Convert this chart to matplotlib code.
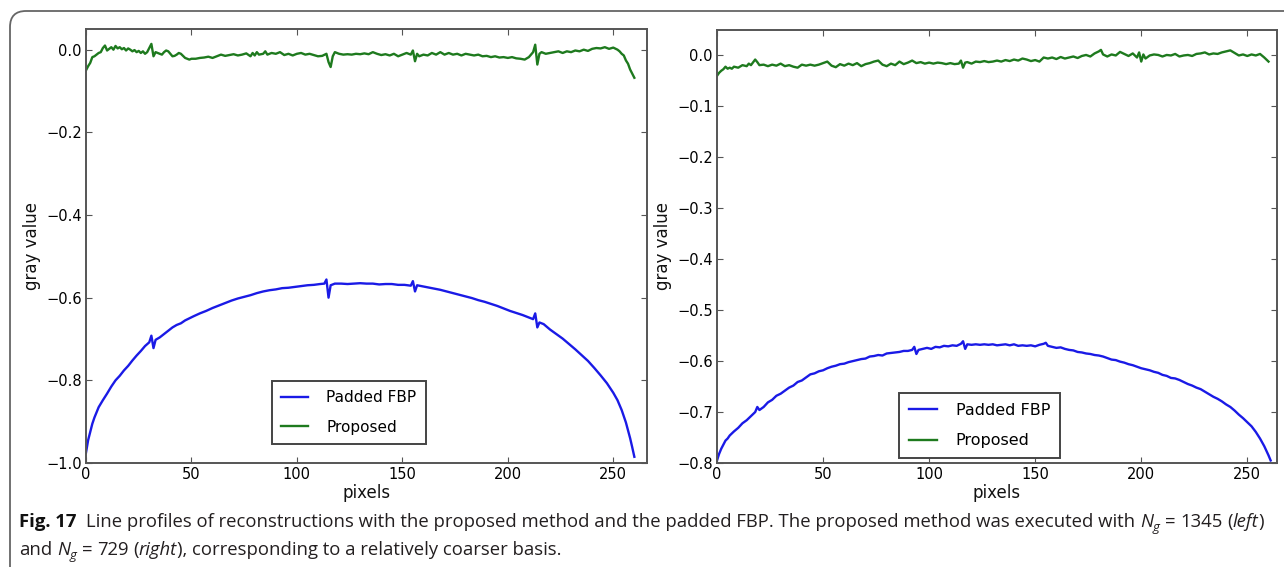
import matplotlib
matplotlib.use("Agg")
import matplotlib.pyplot as plt
from matplotlib.patches import PathPatch
from matplotlib.path import Path
import numpy as np

# ---------------- data ----------------
left_fbp_x = [0, 1, 2, 3, 4, 6, 8, 10, 12, 14, 16, 18, 20, 22, 24, 26, 28, 30, 31, 32, 33, 35, 37, 39, 41, 43, 45, 47, 49, 51,
              54, 57, 60, 63, 66, 69, 72, 75, 78, 81, 84, 87, 90, 93, 96, 99, 102, 105, 108, 111, 113, 114, 115, 116, 118,
              121, 124, 127, 130, 133, 136, 139, 142, 145, 148, 151, 154, 155, 156, 157, 159, 162, 165, 168, 171, 174, 177,
              180, 183, 186, 189, 192, 195, 198, 201, 204, 207, 210, 212, 213, 214, 215, 217, 220, 223, 226, 229, 232, 235,
              238, 241, 244, 247, 250, 252, 254, 256, 258, 259, 260]
left_fbp_y = [-0.975, -0.945, -0.925, -0.905, -0.890, -0.865, -0.848, -0.832, -0.815, -0.800, -0.789, -0.776, -0.765, -0.752,
              -0.740, -0.729, -0.717, -0.708, -0.692, -0.722, -0.702, -0.696, -0.688, -0.680, -0.672, -0.666, -0.662, -0.655,
              -0.650, -0.645, -0.638, -0.632, -0.625, -0.619, -0.613, -0.607, -0.602, -0.598, -0.594, -0.589, -0.585, -0.582,
              -0.580, -0.577, -0.576, -0.574, -0.572, -0.570, -0.569, -0.567, -0.566, -0.556, -0.600, -0.570, -0.566, -0.566,
              -0.567, -0.566, -0.565, -0.566, -0.566, -0.568, -0.567, -0.567, -0.569, -0.569, -0.571, -0.560, -0.585, -0.570,
              -0.572, -0.575, -0.578, -0.581, -0.585, -0.589, -0.593, -0.597, -0.601, -0.606, -0.610, -0.615, -0.620, -0.626,
              -0.632, -0.637, -0.642, -0.648, -0.652, -0.638, -0.672, -0.660, -0.664, -0.677, -0.688, -0.699, -0.712, -0.725,
              -0.739, -0.753, -0.770, -0.788, -0.807, -0.830, -0.848, -0.872, -0.902, -0.940, -0.962, -0.985]

left_prop_x = [0, 1, 2, 3, 4, 5, 6, 7, 8, 9, 10, 11, 12, 13, 14, 15, 16, 17, 18, 19, 20, 21, 22, 23, 24, 25, 26, 27, 28, 29,
               30, 31, 32, 33, 34, 35, 36, 37, 38, 39, 40, 41, 42, 43, 44, 45, 46, 47, 48, 49, 50, 52, 54, 56, 58, 60, 62,
               64, 66, 68, 70, 72, 74, 76, 78, 79, 80, 81, 82, 84, 85, 86, 88, 90, 92, 94, 96, 98, 100, 102, 104, 106, 108,
               110, 112, 114, 115, 116, 117, 118, 119, 120, 122, 124, 126, 128, 130, 132, 134, 136, 138, 140, 142, 144, 146,
               148, 150, 152, 154, 155, 156, 157, 158, 160, 162, 164, 166, 168, 170, 172, 174, 176, 178, 180, 182, 184, 186,
               188, 190, 192, 194, 196, 198, 200, 202, 204, 206, 208, 210, 212, 213, 214, 215, 216, 218, 220, 222, 224, 226,
               228, 230, 232, 234, 236, 238, 240, 242, 244, 246, 248, 250, 252, 253, 254, 255, 256, 257, 258, 259, 260]
left_prop_y = [-0.050, -0.040, -0.032, -0.018, -0.016, -0.012, -0.008, -0.006, 0.004, 0.010, -0.002, 0.002, 0.006, 0.000,
               0.009, 0.003, 0.006, 0.001, 0.004, -0.002, 0.003, 0.000, -0.004, -0.001, -0.006, -0.003, -0.008, -0.004,
               -0.010, -0.006, 0.004, 0.014, -0.016, -0.006, -0.008, -0.010, -0.012, -0.006, -0.002, -0.004, -0.010, -0.016,
               -0.015, -0.012, -0.008, -0.010, -0.015, -0.020, -0.022, -0.024, -0.022, -0.022, -0.020, -0.019, -0.017,
               -0.020, -0.016, -0.012, -0.015, -0.013, -0.011, -0.014, -0.012, -0.009, -0.016, -0.008, -0.014, -0.006,
               -0.012, -0.010, -0.004, -0.012, -0.008, -0.010, -0.006, -0.013, -0.010, -0.014, -0.010, -0.008, -0.012,
               -0.010, -0.013, -0.016, -0.015, -0.010, -0.030, -0.042, -0.016, -0.006, -0.008, -0.010, -0.012, -0.011,
               -0.012, -0.010, -0.011, -0.009, -0.011, -0.006, -0.010, -0.013, -0.011, -0.014, -0.010, -0.016, -0.012,
               -0.008, -0.012, -0.002, -0.028, -0.010, -0.016, -0.012, -0.014, -0.008, -0.012, -0.006, -0.012, -0.008,
               -0.012, -0.010, -0.014, -0.010, -0.012, -0.014, -0.012, -0.016, -0.015, -0.018, -0.016, -0.019, -0.018,
               -0.020, -0.018, -0.021, -0.022, -0.024, -0.018, -0.006, 0.012, -0.036, -0.010, -0.006, -0.010, -0.008,
               -0.006, -0.004, -0.008, -0.004, -0.006, -0.002, -0.004, 0.000, -0.003, 0.002, 0.004, 0.003, 0.006, 0.002,
               0.005, 0.000, -0.004, -0.010, -0.014, -0.026, -0.034, -0.048, -0.058, -0.068]

right_fbp_x = [0, 1, 2, 3, 4, 5, 6, 8, 10, 12, 14, 16, 18, 19, 20, 22, 24, 26, 28, 30, 32, 34, 36, 38, 40, 42, 44, 46, 48,
               50, 52, 54, 56, 58, 60, 62, 64, 66, 68, 70, 72, 74, 76, 78, 80, 82, 84, 86, 88, 90, 92, 93, 94, 95, 97, 99,
               101, 103, 105, 107, 109, 111, 113, 115, 116, 117, 118, 120, 122, 124, 126, 128, 130, 132, 134, 136, 138, 140,
               142, 144, 146, 148, 150, 152, 154, 155, 156, 158, 160, 162, 164, 166, 168, 170, 172, 174, 176, 178, 180, 182,
               184, 186, 188, 190, 192, 194, 196, 198, 200, 202, 204, 206, 208, 210, 212, 214, 216, 218, 220, 222, 224, 226,
               228, 230, 232, 234, 236, 238, 240, 242, 244, 246, 248, 250, 252, 254, 256, 258, 259, 260, 261]
right_fbp_y = [-0.795, -0.782, -0.772, -0.764, -0.756, -0.752, -0.746, -0.738, -0.731, -0.722, -0.716, -0.708, -0.700,
               -0.690, -0.696, -0.690, -0.681, -0.676, -0.668, -0.664, -0.658, -0.652, -0.648, -0.641, -0.638, -0.632,
               -0.626, -0.624, -0.620, -0.618, -0.614, -0.611, -0.609, -0.606, -0.605, -0.602, -0.600, -0.598, -0.596,
               -0.595, -0.591, -0.590, -0.588, -0.589, -0.585, -0.584, -0.583, -0.582, -0.580, -0.580, -0.578, -0.572,
               -0.586, -0.578, -0.576, -0.574, -0.576, -0.572, -0.573, -0.570, -0.571, -0.569, -0.570, -0.566, -0.561,
               -0.576, -0.567, -0.568, -0.567, -0.568, -0.567, -0.568, -0.567, -0.569, -0.568, -0.567, -0.569, -0.567,
               -0.570, -0.569, -0.570, -0.569, -0.571, -0.568, -0.566, -0.564, -0.570, -0.572, -0.574, -0.573, -0.576,
               -0.578, -0.579, -0.582, -0.583, -0.585, -0.586, -0.588, -0.589, -0.591, -0.594, -0.597, -0.598, -0.601,
               -0.603, -0.606, -0.608, -0.611, -0.614, -0.616, -0.618, -0.621, -0.623, -0.627, -0.629, -0.633, -0.634,
               -0.637, -0.641, -0.645, -0.648, -0.652, -0.655, -0.660, -0.665, -0.670, -0.674, -0.679, -0.685, -0.690,
               -0.697, -0.705, -0.712, -0.720, -0.728, -0.739, -0.752, -0.767, -0.776, -0.785, -0.795]

right_prop_x = [0, 1, 2, 3, 4, 5, 6, 7, 8, 10, 12, 14, 15, 16, 18, 19, 20, 22, 24, 26, 28, 30, 32, 34, 36, 38, 40, 42, 44,
                46, 48, 50, 52, 54, 56, 58, 60, 62, 64, 66, 68, 70, 72, 74, 76, 78, 80, 82, 84, 86, 88, 90, 92, 94, 96, 98,
                100, 102, 104, 106, 108, 110, 112, 114, 115, 116, 117, 118, 120, 122, 124, 126, 128, 130, 132, 134, 136,
                138, 140, 142, 144, 146, 148, 150, 152, 154, 156, 158, 160, 162, 164, 166, 168, 170, 172, 174, 176, 178,
                180, 181, 182, 184, 186, 188, 190, 192, 194, 196, 198, 199, 200, 201, 202, 204, 206, 208, 210, 212, 214,
                216, 218, 220, 222, 224, 226, 228, 230, 232, 234, 236, 238, 240, 242, 244, 246, 248, 250, 252, 254, 256,
                258, 259, 260]
right_prop_y = [-0.040, -0.034, -0.030, -0.027, -0.022, -0.026, -0.024, -0.026, -0.022, -0.024, -0.019, -0.021, -0.016,
                -0.019, -0.008, -0.013, -0.019, -0.018, -0.021, -0.018, -0.020, -0.016, -0.021, -0.019, -0.022, -0.024,
                -0.018, -0.020, -0.018, -0.020, -0.018, -0.015, -0.012, -0.020, -0.023, -0.017, -0.020, -0.016, -0.019,
                -0.015, -0.021, -0.017, -0.015, -0.012, -0.010, -0.018, -0.021, -0.016, -0.019, -0.012, -0.017, -0.014,
                -0.010, -0.015, -0.013, -0.016, -0.014, -0.016, -0.014, -0.015, -0.017, -0.015, -0.017, -0.016, -0.010,
                -0.024, -0.014, -0.013, -0.016, -0.012, -0.013, -0.011, -0.013, -0.012, -0.010, -0.012, -0.009, -0.011,
                -0.008, -0.010, -0.006, -0.008, -0.011, -0.009, -0.012, -0.004, -0.006, -0.004, -0.007, -0.003, -0.006,
                -0.004, -0.002, -0.005, -0.001, 0.001, -0.002, 0.004, 0.008, 0.011, 0.002, -0.002, 0.002, 0.000, 0.007,
                0.003, -0.001, 0.004, -0.004, 0.006, -0.012, 0.002, -0.006, 0.000, 0.002, 0.001, -0.002, 0.001, 0.000,
                0.003, -0.002, 0.000, 0.001, -0.001, 0.003, 0.004, 0.006, 0.002, 0.004, 0.003, 0.006, 0.008, 0.010,
                0.005, 0.000, 0.002, -0.001, 0.002, 0.000, 0.003, -0.004, -0.008, -0.012]

series_labels = ["Padded FBP", "Proposed"]
left_yticks = [-1.0, -0.8, -0.6, -0.4, -0.2, 0.0]
right_yticks = [-0.8, -0.7, -0.6, -0.5, -0.4, -0.3, -0.2, -0.1, 0.0]
xticks = [0, 50, 100, 150, 200, 250]

# ---------------- figure ----------------
W, H = 1284, 567
fig = plt.figure(figsize=(W / 100, H / 100), dpi=100)
fig.patch.set_facecolor("white")

def px_rect(l, t, r, b):
    return [l / W, 1 - b / H, (r - l) / W, (b - t) / H]

ax1 = fig.add_axes(px_rect(86, 29, 647, 463))
ax2 = fig.add_axes(px_rect(717, 30, 1277, 463))

tick_font = dict(family="DejaVu Sans", size=10.5)

def style(ax, yticks, ylim, xlim):
    ax.set_xlim(*xlim)
    ax.set_ylim(*ylim)
    ax.set_xticks(xticks)
    ax.set_yticks(yticks)
    ax.set_xticklabels([str(t) for t in xticks], **tick_font)
    ax.set_yticklabels(["\u2212%.1f" % abs(t) if t < 0 else "%.1f" % t for t in yticks], **tick_font)
    ax.tick_params(direction="in", length=4, width=0.8, color="#555555", top=True, right=True,
                   pad=3, labelcolor="#000000")
    for s in ax.spines.values():
        s.set_color("#555555")
        s.set_linewidth(1.4)
    ax.set_xlabel("pixels", family="DejaVu Sans", size=12, labelpad=1, color="#111111")
    ax.set_ylabel("gray value", family="DejaVu Sans", size=12, color="#111111")

for ax, fx, fy, px_, py_, yt, yl, xl, lgpos, lgsize in [
    (ax1, left_fbp_x, left_fbp_y, left_prop_x, left_prop_y, left_yticks, (-1.0, 0.05), (0, 266), (0.332, 0.044), 11),
    (ax2, right_fbp_x, right_fbp_y, right_prop_x, right_prop_y, right_yticks, (-0.8, 0.05), (0, 264), (0.325, 0.012), 11.5),
]:
    ax.plot(fx, fy, color="#1a1ae6", lw=1.7, label=series_labels[0])
    ax.plot(px_, py_, color="#1e7a1e", lw=1.7, label=series_labels[1])
    style(ax, yt, yl, xl)
    leg = ax.legend(loc="lower left", bbox_to_anchor=lgpos, fancybox=False, framealpha=1,
                    prop=dict(family="DejaVu Sans", size=lgsize), handlelength=1.75, borderpad=0.6,
                    labelspacing=0.95, handletextpad=1.2, borderaxespad=0)
    leg.get_frame().set_edgecolor("#444444")
    leg.get_frame().set_linewidth(1.4)

ax1.yaxis.set_label_coords(-0.080, 0.5)
ax2.yaxis.set_label_coords(-0.080, 0.5)

# ---------------- border (rounded, cropped at right & bottom) ----------------
r = 16
verts = [(10, H + 5), (10, 11 + r), (10, 11), (10 + r, 11), (W + 5, 11)]
codes = [Path.MOVETO, Path.LINETO, Path.CURVE3, Path.CURVE3, Path.LINETO]
verts_fig = [(x / W, 1 - y / H) for x, y in verts]
fig.patches.append(PathPatch(Path(verts_fig, codes), transform=fig.transFigure, fill=False,
                             edgecolor="#666666", lw=1.3))

# ---------------- caption ----------------
renderer = fig.canvas.get_renderer()
cap_family = "Open Sans"
cap_size = 13.3

def text_w(s, **kw):
    t = fig.text(0, 0, s, **kw)
    w = t.get_window_extent(renderer).width
    t.remove()
    return w

base_kw = dict(family=cap_family, size=cap_size, color="#231f20")
space_w = text_w("x x", **base_kw) - text_w("xx", **base_kw)

def draw_line(x, y, pieces):
    for s, extra, dy, gap in pieces:
        kw = dict(base_kw)
        kw.update(extra)
        t = fig.text(x / W, 1 - (y + dy) / H, s, va="baseline", ha="left", **kw)
        x += t.get_window_extent(renderer).width + gap * space_w
    return x

it = dict(style="italic")
sub = dict(style="italic", size=cap_size * 0.72)
draw_line(19, 527, [
    ("Fig. 17", dict(weight="bold", color="#111111"), 0, 2),
    ("Line profiles of reconstructions with the proposed method and the padded FBP. The proposed method was executed with", {}, 0, 1),
    ("N", it, 0, 0), ("g", sub, 4, 1), ("=", {}, 0, 1), ("1345", {}, 0, 1), ("(", {}, 0, 0), ("left", it, 0, 0), (")", {}, 0, 0),
])
draw_line(19, 555, [
    ("and", {}, 0, 1), ("N", it, 0, 0), ("g", sub, 4, 1), ("=", {}, 0, 1), ("729", {}, 0, 1), ("(", {}, 0, 0),
    ("right", it, 0, 0), ("), corresponding to a relatively coarser basis.", {}, 0, 0),
])

fig.savefig("out.png", dpi=100, facecolor="white")
